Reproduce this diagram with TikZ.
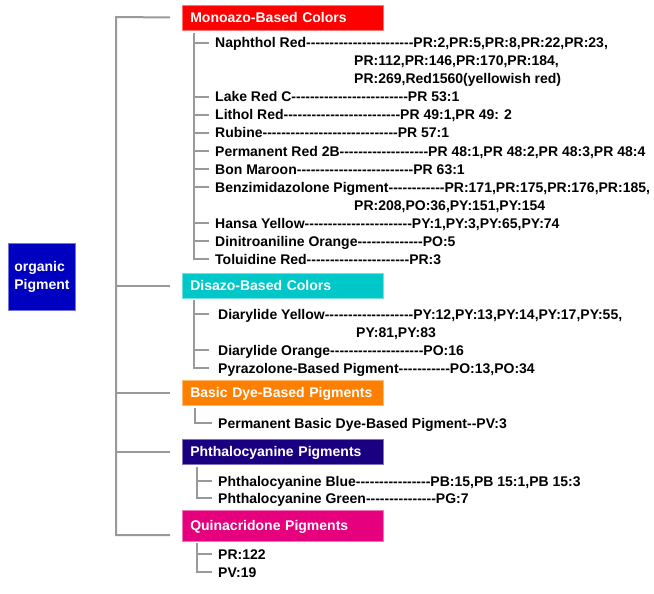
\documentclass[tikz,border=0pt]{standalone}
\usepackage{fontspec}
\setmainfont{Liberation Sans}[Ligatures=TeXOff]
\usetikzlibrary{positioning}
\definecolor{Trunk}{HTML}{999999}
\definecolor{RootBlue}{HTML}{0000C0}
\definecolor{MonoRed}{HTML}{FF0000}
\definecolor{DisCyan}{HTML}{00C8C8}
\definecolor{DyeOrange}{HTML}{FF8000}
\definecolor{PhthNavy}{HTML}{1A0080}
\definecolor{QuinPink}{HTML}{E6007E}
\tikzset{
  txt/.style={font=\fontsize{14}{18}\selectfont\bfseries},
  cat/.style={txt, rectangle, draw=#1!55!white, fill=#1, text=white, anchor=west, text width=185pt, align=left, inner xsep=8pt, inner ysep=0pt, minimum height=25pt, text height=10pt, text depth=0pt, line width=0.6pt},
  item/.style={txt, anchor=west, inner sep=0pt, text height=10pt, text depth=0pt},
  limb/.style={draw=Trunk, line width=2pt}
}

\begin{document}
\begin{tikzpicture}[x=1pt, y=-1pt]
\useasboundingbox (0,0) rectangle (654,594);
% root
\node[txt, draw=RootBlue!55!white, fill=RootBlue, text=white, align=left, text width=55pt, inner xsep=6pt, minimum height=67pt, anchor=north west, line width=0.6pt] (root) at (8,243) {organic\\Pigment};
% categories
\node[cat=MonoRed] (mono) at (182,17.5) {Monoazo-Based Colors};
\node[cat=DisCyan] (dis) at (182,285.5) {Disazo-Based Colors};
\node[cat=DyeOrange] (dye) at (182,392.5) {Basic Dye-Based Pigments};
\node[cat=PhthNavy] (phth) at (182,451.5) {Phthalocyanine Pigments};
\node[cat=QuinPink, minimum height=31pt] (quin) at (182,525.5) {Quinacridone Pigments};
% trunk
\coordinate (ttop) at (116,17);
\coordinate (tbot) at (116,535);
\coordinate (qend) at (170,535);
\draw[limb] ([xshift=-12pt]mono.west) -- (ttop) -- (tbot) -- (qend);
\foreach \c in {dis,dye,phth} \draw[limb] (ttop |- \c.west) -- ([xshift=-12pt]\c.west);

% Monoazo-Based Colors
\node[item] (m1) at (215,43) {Naphthol Red-----------------------PR:2,PR:5,PR:8,PR:22,PR:23,};
\node[item] (m1b) at (354,61) {PR:112,PR:146,PR:170,PR:184,};
\node[item] (m1c) at (354,79) {PR:269,Red1560(yellowish red)};
\node[item] (m2) at (215,97) {Lake Red C-------------------------PR 53:1};
\node[item] (m3) at (215,115) {Lithol Red-------------------------PR 49:1,PR 49: 2};
\node[item] (m4) at (215,133) {Rubine-----------------------------PR 57:1};
\node[item] (m5) at (215,151) {Permanent Red 2B-------------------PR 48:1,PR 48:2,PR 48:3,PR 48:4};
\node[item] (m6) at (215,169) {Bon Maroon-------------------------PR 63:1};
\node[item] (m7) at (215,187) {Benzimidazolone Pigment------------PR:171,PR:175,PR:176,PR:185,};
\node[item] (m7b) at (354,205) {PR:208,PO:36,PY:151,PY:154};
\node[item] (m8) at (215,223) {Hansa Yellow-----------------------PY:1,PY:3,PY:65,PY:74};
\node[item] (m9) at (215,241) {Dinitroaniline Orange--------------PO:5};
\node[item] (m10) at (215,259) {Toluidine Red----------------------PR:3};
\coordinate (mstem) at (194,33);
\foreach \n in {m1,m2,m3,m4,m5,m6,m7,m8,m9} \draw[limb] (mstem |- \n.west) -- ([xshift=-6pt]\n.west);
\draw[limb] (mstem) |- ([xshift=-6pt]m10.west);

% Disazo-Based Colors
\node[item] (d1) at (218,314) {Diarylide Yellow-------------------PY:12,PY:13,PY:14,PY:17,PY:55,};
\node[item] (d1b) at (356,332) {PY:81,PY:83};
\node[item] (d2) at (218,350) {Diarylide Orange--------------------PO:16};
\node[item] (d3) at (218,368) {Pyrazolone-Based Pigment-----------PO:13,PO:34};
\coordinate (dstem) at (194,300);
\foreach \n in {d1,d2} \draw[limb] (dstem |- \n.west) -- ([xshift=-9pt]\n.west);
\draw[limb] (dstem) |- ([xshift=-9pt]d3.west);

% Basic Dye-Based Pigments
\node[item] (b1) at (218,423) {Permanent Basic Dye-Based Pigment--PV:3};
\coordinate (bstem) at (195,408);
\draw[limb] (bstem) |- ([xshift=-6pt]b1.west);

% Phthalocyanine Pigments
\node[item] (p1) at (218,481) {Phthalocyanine Blue----------------PB:15,PB 15:1,PB 15:3};
\node[item] (p2) at (218,498) {Phthalocyanine Green---------------PG:7};
\coordinate (pstem) at (197,467);
\draw[limb] (pstem |- p1.west) -- ([xshift=-6pt]p1.west);
\draw[limb] (pstem) |- ([xshift=-6pt]p2.west);

% Quinacridone Pigments
\node[item] (q1) at (218,554) {PR:122};
\node[item] (q2) at (218,572) {PV:19};
\coordinate (qstem) at (197,543);
\draw[limb] (qstem |- q1.west) -- ([xshift=-6pt]q1.west);
\draw[limb] (qstem) |- ([xshift=-6pt]q2.west);
\end{tikzpicture}
\end{document}
